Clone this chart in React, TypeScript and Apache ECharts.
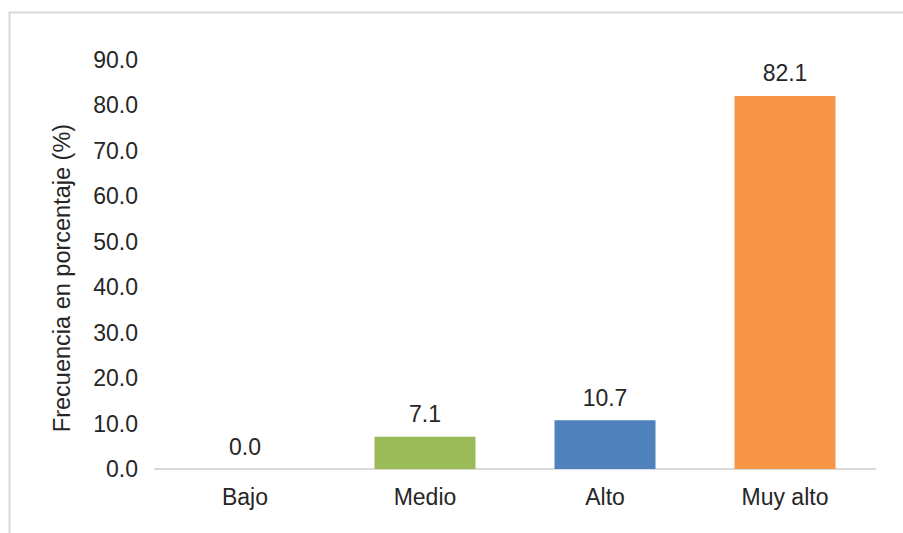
import React, { useEffect, useRef } from "react";
import * as echarts from "echarts";

const categories = ["Bajo", "Medio", "Alto", "Muy alto"];
const values = [0.0, 7.1, 10.7, 82.1];
const barColors = ["#9BBB59", "#9BBB59", "#4F81BD", "#F79646"];
const yAxisTitle = "Frecuencia en porcentaje (%)";

export default function App() {
  const ref = useRef<HTMLDivElement>(null);
  useEffect(() => {
    document.body.style.margin = "0";
    const chart = echarts.init(ref.current!, null, { renderer: "svg" });
    const font = "'Liberation Sans', Arial, sans-serif";
    chart.setOption({
      animation: false,
      backgroundColor: "#ffffff",
      graphic: [
        {
          type: "rect",
          shape: { x: 9.5, y: 12.5, width: 920, height: 540 },
          style: { fill: "none", stroke: "#d9d9d9", lineWidth: 2 },
          silent: true,
        },
        {
          type: "text",
          x: 62,
          y: 278,
          rotation: Math.PI / 2,
          style: {
            text: yAxisTitle,
            fill: "#262626",
            fontSize: 23.5,
            fontFamily: font,
            align: "center",
            verticalAlign: "middle",
          },
          silent: true,
        },
      ],
      grid: { left: 155, right: 28, top: 60, bottom: 64 },
      xAxis: {
        type: "category",
        data: categories,
        axisLine: { show: true, lineStyle: { color: "#d9d9d9", width: 2 } },
        axisTick: { show: false },
        axisLabel: { color: "#262626", fontSize: 23, fontFamily: font, margin: 16 },
      },
      yAxis: {
        type: "value",
        min: 0,
        max: 90,
        interval: 10,
        axisLine: { show: false },
        axisTick: { show: false },
        splitLine: { show: false },
        axisLabel: {
          color: "#262626",
          fontSize: 23,
          fontFamily: font,
          margin: 17,
          formatter: (v: number) => v.toFixed(1),
        },
      },
      series: [
        {
          type: "bar",
          data: values.map((v, i) => ({ value: v, itemStyle: { color: barColors[i] } })),
          barWidth: 101,
          label: {
            show: true,
            position: "top",
            distance: 11,
            color: "#262626",
            fontSize: 23,
            fontFamily: font,
            formatter: (p: any) => Number(p.value).toFixed(1),
          },
        },
      ],
    });
    return () => chart.dispose();
  }, []);
  return <div ref={ref} style={{ width: 903, height: 533 }} />;
}
